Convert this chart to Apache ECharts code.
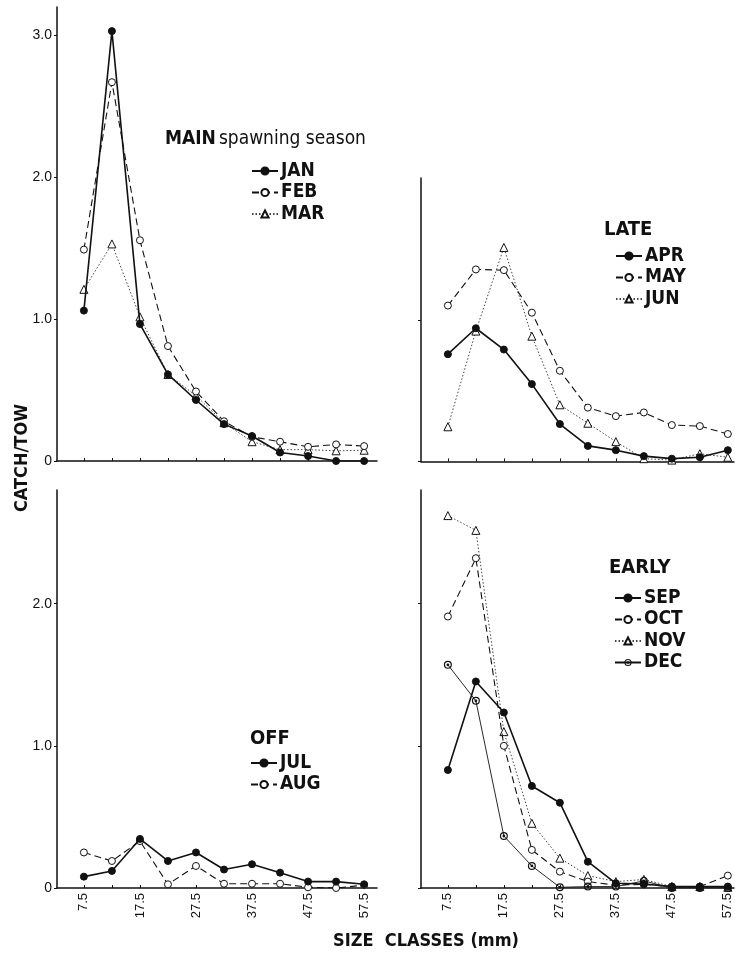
<!DOCTYPE html>
<html lang="en">
<head>
    <meta charset="UTF-8">
    <title>Catch per tow by size class</title>
    <script src="https://cdn.jsdelivr.net/npm/echarts@6/dist/echarts.min.js"></script>
    <style>
        html, body { margin: 0; padding: 0; background: #fff; }
        #main { width: 735px; height: 955px; }
    </style>
</head>
<body>
<div id="main"></div>
<script>
    // size classes (mm)
    var sizes = [7.5, 12.5, 17.5, 22.5, 27.5, 32.5, 37.5, 42.5, 47.5, 52.5, 57.5];
    var sizeLabels = [7.5, 17.5, 27.5, 37.5, 47.5, 57.5];

    // MAIN spawning season
    var jan = [1.06, 3.03, 0.965, 0.61, 0.43, 0.26, 0.176, 0.06, 0.035, 0, 0];
    var feb = [1.49, 2.67, 1.556, 0.81, 0.49, 0.28, 0.17, 0.136, 0.10, 0.117, 0.105];
    var mar = [1.21, 1.53, 1.016, 0.61, 0.46, 0.27, 0.136, 0.08, 0.08, 0.072, 0.076];
    // LATE
    var apr = [0.757, 0.94, 0.79, 0.546, 0.264, 0.11, 0.08, 0.038, 0.02, 0.03, 0.08];
    var may = [1.10, 1.355, 1.35, 1.05, 0.64, 0.38, 0.32, 0.346, 0.257, 0.25, 0.194];
    var jun = [0.245, 0.92, 1.51, 0.884, 0.40, 0.27, 0.14, 0.02, 0.01, 0.055, 0.03];
    // OFF
    var jul = [0.08, 0.12, 0.345, 0.19, 0.25, 0.13, 0.167, 0.108, 0.045, 0.045, 0.026];
    var aug = [0.25, 0.19, 0.33, 0.026, 0.155, 0.03, 0.03, 0.03, 0.005, 0, 0.02];
    // EARLY
    var sep = [0.83, 1.453, 1.235, 0.718, 0.60, 0.185, 0.033, 0.028, 0.01, 0.01, 0.01];
    var oct = [1.91, 2.32, 1.0, 0.268, 0.115, 0.045, 0.02, 0.025, 0.01, 0.01, 0.087];
    var nov = [2.62, 2.516, 1.10, 0.455, 0.21, 0.087, 0.045, 0.06, 0.01, 0.01, 0.005];
    var dec = [1.57, 1.317, 0.366, 0.155, 0.005, 0.01, 0.01, 0.05, 0, 0, 0];

    var yTicksMain = [0, 1, 2, 3];
    var yTicksLate = [0, 1];
    var yTicksLow = [0, 1, 2];

    var ink = '#111';
    var narrow = "'Liberation Sans Narrow', 'DejaVu Sans Condensed', 'Liberation Sans', sans-serif";
    var plain = "'Liberation Sans', Arial, sans-serif";
    var ringDot = 'path://M0,-10A10,10 0 1,1 0,10A10,10 0 1,1 0,-10ZM0,-7A7,7 0 1,0 0,7A7,7 0 1,0 0,-7ZM0,-3.5A3.5,3.5 0 1,1 0,3.5A3.5,3.5 0 1,1 0,-3.5Z';

    function pairs(vals) {
        return sizes.map(function (s, i) { return [s, vals[i]]; });
    }

    var styles = {
        solid:  { symbol: 'circle', size: 7, fill: ink, line: { width: 1.6, type: 'solid', color: ink } },
        dashed: { symbol: 'circle', size: 7, fill: '#fff', line: { width: 1.1, type: [7, 4], color: ink } },
        dotted: { symbol: 'triangle', size: 8, fill: '#fff', line: { width: 1, type: [1.5, 2], color: '#444' } },
        ring:   { symbol: ringDot, size: 8, fill: ink, line: { width: 0.9, type: 'solid', color: ink } }
    };

    function mk(name, vals, gi, kind, z) {
        var st = styles[kind];
        return {
            name: name,
            type: 'line',
            xAxisIndex: gi,
            yAxisIndex: gi,
            data: pairs(vals),
            symbol: st.symbol,
            symbolSize: st.size,
            showAllSymbol: true,
            z: z,
            lineStyle: st.line,
            itemStyle: { color: st.fill, borderColor: ink, borderWidth: kind === 'ring' ? 0 : 1 },
            emphasis: { disabled: true },
            animation: false
        };
    }

    var grids = [
        { left: 57, top: 7, width: 320, height: 454 },
        { left: 421, top: 178, width: 313, height: 283.5 },
        { left: 57, top: 490, width: 320, height: 398 },
        { left: 421, top: 490, width: 313, height: 398 }
    ];

    function xAx(gi, showLabels, max) {
        return {
            type: 'value', gridIndex: gi, min: 2.7, max: max,
            axisLine: { lineStyle: { color: ink, width: 1.5 } },
            axisTick: { show: true, inside: true, length: 3, customValues: sizes, lineStyle: { color: ink } },
            axisLabel: {
                show: showLabels, customValues: sizeLabels, rotate: 90, margin: 5,
                color: ink, fontFamily: plain, fontSize: 13,
                formatter: function (v) { return String(v); }
            },
            splitLine: { show: false }
        };
    }

    function yAx(gi, max, ticks, showLabels) {
        return {
            type: 'value', gridIndex: gi, min: 0, max: max,
            axisLine: { show: true, lineStyle: { color: ink, width: 1.5 } },
            axisTick: { show: true, length: 3, customValues: ticks, lineStyle: { color: ink } },
            axisLabel: {
                show: showLabels, customValues: ticks, margin: 5,
                color: ink, fontFamily: plain, fontSize: 14,
                formatter: function (v) { return v === 0 ? '0' : v.toFixed(1); }
            },
            splitLine: { show: false }
        };
    }

    function legendAt(left, top, names) {
        return {
            orient: 'vertical', left: left, top: top, data: names,
            itemWidth: 26, itemHeight: 9, itemGap: 1.5,
            selectedMode: false,
            textStyle: { color: ink, fontFamily: narrow, fontSize: 19, fontWeight: 'bold', lineHeight: 20, padding: [0, 0, 0, -2] }
        };
    }

    var chart = echarts.init(document.getElementById('main'), null, { renderer: 'canvas' });
    chart.setOption({
        backgroundColor: '#fff',
        animation: false,
        grid: grids,
        xAxis: [xAx(0, false, 59.8), xAx(1, false, 58.6), xAx(2, true, 59.8), xAx(3, true, 58.6)],
        yAxis: [yAx(0, 3.2, yTicksMain, true), yAx(1, 2.0, yTicksLate, false), yAx(2, 2.8, yTicksLow, true), yAx(3, 2.8, yTicksLow, false)],
        legend: [
            legendAt(246, 156, ['JAN', 'FEB', 'MAR']),
            legendAt(610, 241, ['APR', 'MAY', 'JUN']),
            legendAt(245, 748, ['JUL', 'AUG']),
            legendAt(609, 583, ['SEP', 'OCT', 'NOV', 'DEC'])
        ],
        series: [
            mk('MAR', mar, 0, 'dotted', 2), mk('FEB', feb, 0, 'dashed', 3), mk('JAN', jan, 0, 'solid', 4),
            mk('JUN', jun, 1, 'dotted', 2), mk('MAY', may, 1, 'dashed', 3), mk('APR', apr, 1, 'solid', 4),
            mk('AUG', aug, 2, 'dashed', 3), mk('JUL', jul, 2, 'solid', 4),
            mk('NOV', nov, 3, 'dotted', 2), mk('OCT', oct, 3, 'dashed', 3), mk('DEC', dec, 3, 'ring', 3), mk('SEP', sep, 3, 'solid', 4)
        ],
        graphic: [
            {
                type: 'text', left: 165, top: 130,
                style: {
                    text: '{a|MAIN}{b|spawning season}',
                    rich: {
                        a: { fontFamily: narrow, fontSize: 19, fontWeight: 'bold', fill: ink, padding: [0, 3, 0, 0], verticalAlign: 'bottom' },
                        b: { fontFamily: narrow, fontSize: 19, fill: ink, verticalAlign: 'bottom' }
                    }
                }
            },
            { type: 'text', left: 604, top: 220, style: { text: 'LATE', fontFamily: narrow, fontSize: 20, fontWeight: 'bold', fill: ink } },
            { type: 'text', left: 250, top: 729, style: { text: 'OFF', fontFamily: narrow, fontSize: 20, fontWeight: 'bold', fill: ink } },
            { type: 'text', left: 609, top: 558, style: { text: 'EARLY', fontFamily: narrow, fontSize: 20, fontWeight: 'bold', fill: ink } },
            {
                type: 'text', x: 22, y: 458, rotation: Math.PI / 2,
                style: { text: 'CATCH/TOW', fontFamily: narrow, fontSize: 18, fontWeight: 'bold', fill: ink, align: 'center', verticalAlign: 'middle' }
            },
            {
                type: 'text', x: 426, y: 941,
                style: { text: 'SIZE  CLASSES (mm)', fontFamily: narrow, fontSize: 18, fontWeight: 'bold', fill: ink, align: 'center', verticalAlign: 'middle' }
            }
        ]
    });
</script>
</body>
</html>
